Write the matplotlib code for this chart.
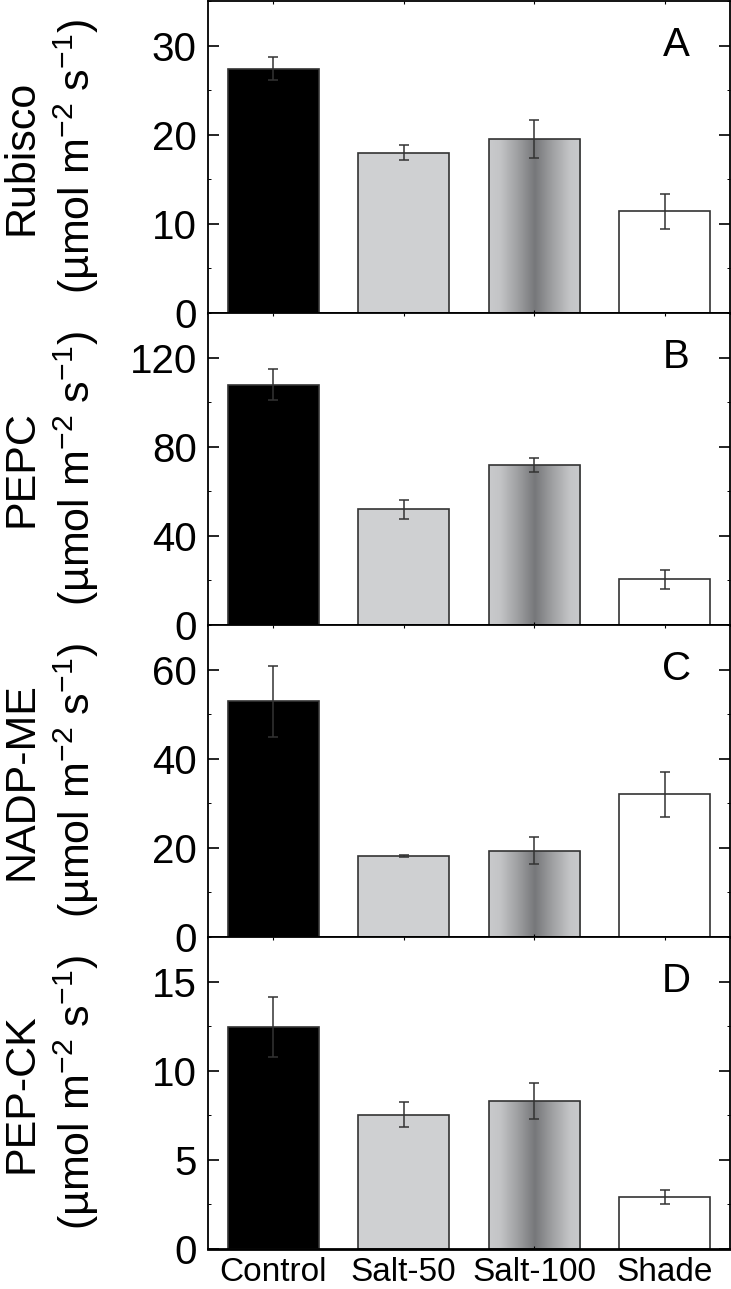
import numpy as np
import matplotlib
matplotlib.use('Agg')
import matplotlib.pyplot as plt
from matplotlib.colors import LinearSegmentedColormap

plt.rcParams['font.family'] = ['Liberation Sans', 'DejaVu Sans']
plt.rcParams['mathtext.fontset'] = 'custom'
plt.rcParams['mathtext.rm'] = 'Liberation Sans'
plt.rcParams['mathtext.it'] = 'Liberation Sans'

categories = ['Control', 'Salt-50', 'Salt-100', 'Shade']

rubisco = [27.4, 18.0, 19.5, 11.4]
rubisco_err = [1.3, 0.85, 2.1, 2.0]
pepc = [107.8, 52.0, 71.8, 20.5]
pepc_err = [7.0, 4.3, 3.0, 4.3]
nadpme = [52.9, 18.1, 19.4, 32.0]
nadpme_err = [8.0, 0.2, 3.1, 5.0]
pepck = [12.45, 7.54, 8.29, 2.92]
pepck_err = [1.67, 0.7, 1.02, 0.41]

names = ['Rubisco', 'PEPC', 'NADP-ME', 'PEP-CK']
letters = ['A', 'B', 'C', 'D']
values = [rubisco, pepc, nadpme, pepck]
errors = [rubisco_err, pepc_err, nadpme_err, pepck_err]
ylims = [35, 140, 70, 17.5]
yticks = [[0, 10, 20, 30], [0, 40, 80, 120], [0, 20, 40, 60], [0, 5, 10, 15]]

face = ['black', '#cfd0d2', 'none', 'white']
grad = LinearSegmentedColormap.from_list('g', [(0, '#c9cacc'), (0.12, '#c3c4c6'),
                                                (0.35, '#97989a'), (0.5, '#76777a'),
                                                (0.65, '#97989a'), (0.88, '#c3c4c6'),
                                                (1, '#c9cacc')])

fig = plt.figure(figsize=(7.31, 12.89), dpi=100)
W, H = 731., 1289.
left = 208 / W
width = 522 / W
tops = [1, 313, 625, 937]
ph = 312

x = np.arange(len(categories))
for i in range(4):
    ax = fig.add_axes([left, (H - tops[i] - ph) / H, width, ph / H])
    bars = ax.bar(x, values[i], width=0.7, color=face, edgecolor='#333333',
                  linewidth=1.2, zorder=2)
    b = bars[2]
    im = ax.imshow(np.linspace(0, 1, 200)[None, :], cmap=grad, aspect='auto',
                   extent=[b.get_x(), b.get_x() + b.get_width(), 0, b.get_height()],
                   zorder=1.5)
    im.set_clip_path(b)
    ax.errorbar(x, values[i], yerr=errors[i], fmt='none', ecolor='#333333',
                elinewidth=1.1, capsize=3.8, capthick=1.1, zorder=3)
    ax.set_xlim(-0.5, 3.5)
    ax.set_ylim(0, ylims[i])
    ax.set_yticks(yticks[i])
    ax.set_yticks(np.arange(0, ylims[i] + 0.01, yticks[i][1] / 2.), minor=True)
    ax.tick_params(axis='y', which='major', direction='in', length=8, width=1.2,
                   right=True, labelsize=29, pad=8)
    ax.tick_params(axis='y', which='minor', direction='in', length=2, width=0.7,
                   right=True)
    ax.set_xticks(x)
    ax.tick_params(axis='x', which='major', direction='in', length=2.5, width=0.8,
                   top=True, labelsize=24, pad=6)
    if i < 3:
        ax.set_xticklabels([])
    else:
        ax.set_xticklabels(categories)
    for s in ['left', 'right', 'top']:
        ax.spines[s].set_linewidth(1.3)
    ax.spines['bottom'].set_linewidth(2.0)
    ax.set_ylabel(names[i] + '\n(µmol m$^{-2}$ s$^{-1}$)', fontsize=31,
                  linespacing=1.25)
    ax.yaxis.set_label_coords(-0.205, 0.5)
    ax.text(0.897, 1 - 44. / ph, letters[i], transform=ax.transAxes,
            fontsize=29, ha='center', va='center')

fig.savefig('out.png', dpi=100)
plt.close('all')
